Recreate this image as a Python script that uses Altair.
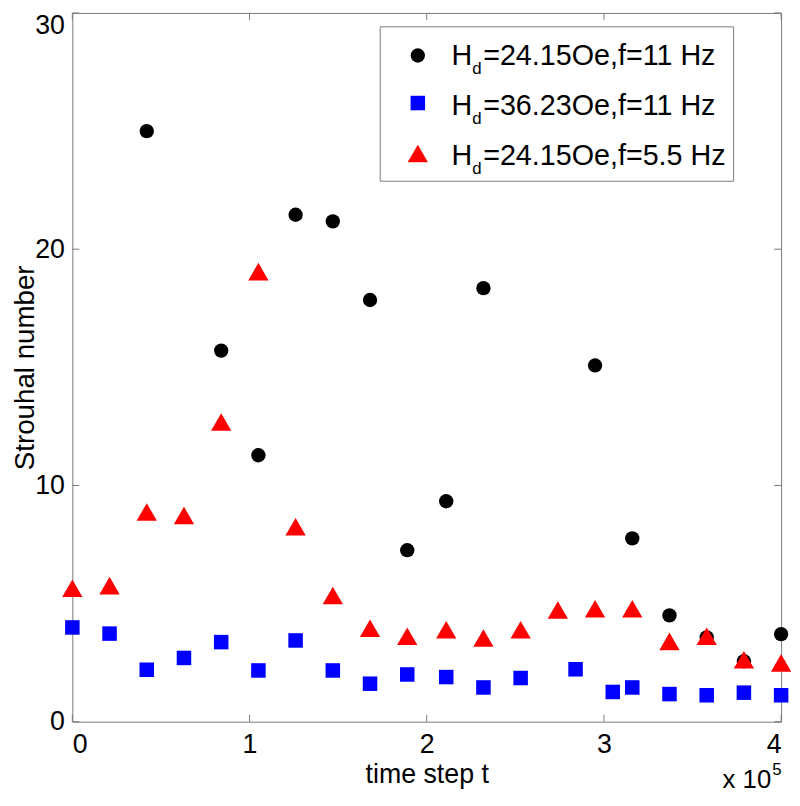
import altair as alt
import pandas as pd

# ---- data (time step in units of 1e5) ----
black_x = [0.42, 0.84, 1.05, 1.26, 1.47, 1.68, 1.89, 2.11, 2.32, 2.95, 3.16, 3.37, 3.58, 3.79, 4.00]
black_y = [25.0, 15.71, 11.28, 21.46, 21.18, 17.85, 7.26, 9.33, 18.35, 15.08, 7.76, 4.50, 3.57, 2.56, 3.71]

blue_x = [0.0, 0.21, 0.42, 0.63, 0.84, 1.05, 1.26, 1.47, 1.68, 1.89, 2.11, 2.32, 2.53, 2.84, 3.05, 3.16, 3.37, 3.58, 3.79, 4.00]
blue_y = [3.99, 3.73, 2.20, 2.70, 3.37, 2.17, 3.44, 2.17, 1.61, 2.00, 1.89, 1.45, 1.85, 2.22, 1.26, 1.45, 1.17, 1.12, 1.23, 1.12]

red_x = [0.0, 0.21, 0.42, 0.63, 0.84, 1.05, 1.26, 1.47, 1.68, 1.89, 2.11, 2.32, 2.53, 2.74, 2.95, 3.16, 3.37, 3.58, 3.79, 4.00]
red_y = [5.65, 5.76, 8.88, 8.73, 12.69, 19.05, 8.25, 5.34, 3.96, 3.62, 3.89, 3.54, 3.89, 4.73, 4.78, 4.78, 3.40, 3.62, 2.62, 2.49]

x_ticks = [0, 1, 2, 3, 4]
y_ticks = [0, 10, 20, 30]

legend_main = ["H", "H", "H"]
legend_sub = ["d", "d", "d"]
legend_rest = ["=24.15Oe,f=11 Hz", "=36.23Oe,f=11 Hz", "=24.15Oe,f=5.5 Hz"]
legend_shapes = ["circle", "square", "triangle-up"]
legend_colors = ["#000000", "#0000ff", "#ff0000"]

x_title = "time step t"
y_title = "Strouhal number"
exp_base = "x 10"
exp_pow = "5"

# ---- style ----
W = H = 716
FONT = "Liberation Sans"
FRAME = "#7a7a7a"
TICK_LEN = 7
SIZES = {"circle": 210, "square": 215, "triangle-up": 420}

xs = alt.Scale(domain=[0, 4], nice=False, zero=False)
ys = alt.Scale(domain=[0, 30], nice=False, zero=False)

x_axis = alt.Axis(values=x_ticks, format="d", grid=False, domain=False, tickSize=0,
                  labelFont=FONT, labelFontSize=27, labelColor="black", labelPadding=10,
                  title=x_title, titleFont=FONT, titleFontSize=27, titleFontWeight="normal",
                  titleColor="black", titleY=61, titleBaseline="alphabetic")
y_axis = alt.Axis(values=y_ticks, format="d", grid=False, domain=False, tickSize=0,
                  labelFont=FONT, labelFontSize=27, labelColor="black", labelPadding=8,
                  labelBaseline={"condition": {"test": "datum.value == 30", "value": "top"},
                                 "value": "middle"},
                  title=y_title, titleFont=FONT, titleFontSize=28,
                  titleFontWeight="normal", titleColor="black", titleX=-39, titleY=358,
                  titleAngle=270, titleAlign="center", titleBaseline="alphabetic")

df_black = pd.DataFrame({"t": black_x, "s": black_y})
df_blue = pd.DataFrame({"t": blue_x, "s": blue_y})
df_red = pd.DataFrame({"t": red_x, "s": red_y})

black = alt.Chart(df_black).mark_point(shape="circle", filled=True, opacity=1,
                                       color="#000000", size=SIZES["circle"]).encode(
    x=alt.X("t:Q", scale=xs, axis=x_axis),
    y=alt.Y("s:Q", scale=ys, axis=y_axis),
)
blue = alt.Chart(df_blue).mark_point(shape="square", filled=True, opacity=1,
                                     color="#0000ff", size=SIZES["square"]).encode(
    x=alt.X("t:Q", scale=xs), y=alt.Y("s:Q", scale=ys))
red = alt.Chart(df_red).mark_point(shape="triangle-up", filled=True, opacity=1,
                                   color="#ff0000", size=SIZES["triangle-up"]).encode(
    x=alt.X("t:Q", scale=xs), y=alt.Y("s:Q", scale=ys))

# inward ticks on all four sides
dfx = pd.DataFrame({"v": x_ticks})
dfy = pd.DataFrame({"v": y_ticks})
tick_style = dict(color=FRAME, strokeWidth=1)
t_bottom = alt.Chart(dfx).mark_rule(**tick_style).encode(
    x=alt.X("v:Q", scale=xs), y=alt.value(H), y2=alt.value(H - TICK_LEN))
t_top = alt.Chart(dfx).mark_rule(**tick_style).encode(
    x=alt.X("v:Q", scale=xs), y=alt.value(0), y2=alt.value(TICK_LEN))
t_left = alt.Chart(dfy).mark_rule(**tick_style).encode(
    y=alt.Y("v:Q", scale=ys), x=alt.value(0), x2=alt.value(TICK_LEN))
t_right = alt.Chart(dfy).mark_rule(**tick_style).encode(
    y=alt.Y("v:Q", scale=ys), x=alt.value(W), x2=alt.value(W - TICK_LEN))

# custom legend
dummy = pd.DataFrame({"a": [0]})
leg_box = alt.Chart(dummy).mark_rect(fill="white", stroke=FRAME, strokeWidth=1).encode(
    x=alt.value(311), x2=alt.value(668), y=alt.value(14), y2=alt.value(170))

legend_layers = [leg_box]
sym_y = [43, 91, 142]
base_y = [53, 103, 154]
for i in range(3):
    shp = legend_shapes[i]
    legend_layers.append(
        alt.Chart(dummy).mark_point(shape=shp, filled=True, opacity=1,
                                    color=legend_colors[i], size=SIZES[shp]).encode(
            x=alt.value(349), y=alt.value(sym_y[i])))
    dtxt = pd.DataFrame({"m": [legend_main[i]], "d": [legend_sub[i]], "r": [legend_rest[i]]})
    legend_layers.append(
        alt.Chart(dtxt).mark_text(align="left", baseline="alphabetic", font=FONT,
                                  fontSize=29, color="black").encode(
            x=alt.value(383), y=alt.value(base_y[i]), text="m:N"))
    legend_layers.append(
        alt.Chart(dtxt).mark_text(align="left", baseline="alphabetic", font=FONT,
                                  fontSize=17, color="black").encode(
            x=alt.value(404), y=alt.value(base_y[i] + 9), text="d:N"))
    legend_layers.append(
        alt.Chart(dtxt).mark_text(align="left", baseline="alphabetic", font=FONT,
                                  fontSize=29, color="black").encode(
            x=alt.value(415), y=alt.value(base_y[i]), text="r:N"))

# exponent label
dexp = pd.DataFrame({"b": [exp_base], "p": [exp_pow]})
exp_b = alt.Chart(dexp).mark_text(align="right", baseline="alphabetic", font=FONT,
                                  fontSize=26, color="black").encode(
    x=alt.value(706), y=alt.value(783), text="b:N")
exp_p = alt.Chart(dexp).mark_text(align="left", baseline="alphabetic", font=FONT,
                                  fontSize=17, color="black").encode(
    x=alt.value(707), y=alt.value(770), text="p:N")

chart = alt.layer(
    black, blue, red, t_bottom, t_top, t_left, t_right, *legend_layers, exp_b, exp_p
).properties(
    width=W, height=H,
    autosize=alt.AutoSizeParams(type="none"),
    padding={"left": 65, "top": 1, "right": 11, "bottom": 68},
    background="white",
).configure_view(stroke=FRAME, strokeWidth=1)

chart.save("out.html", embed_options={"renderer": "svg", "actions": False})
